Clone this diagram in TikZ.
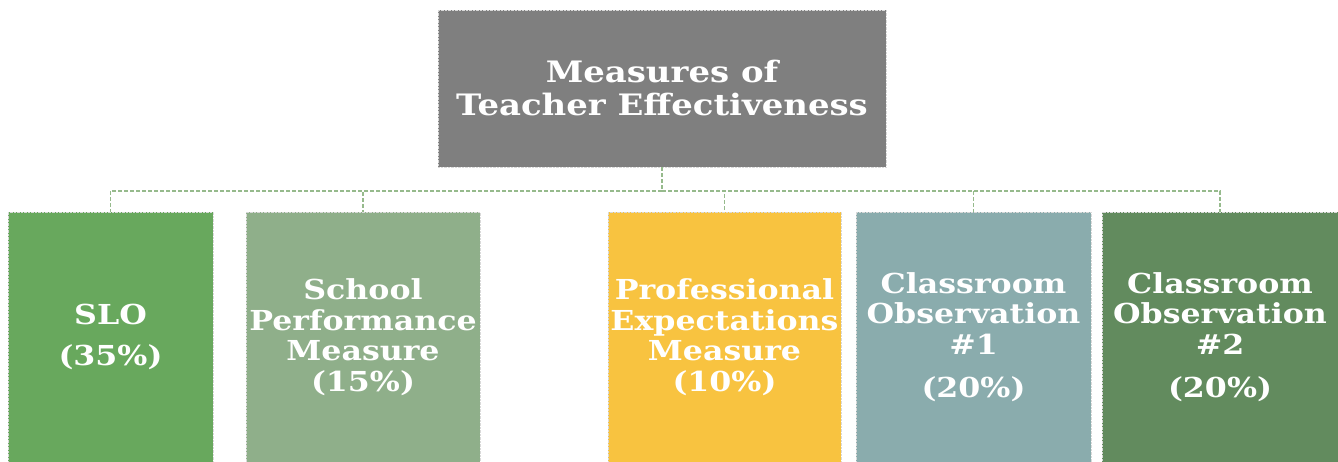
\documentclass[tikz,border=0pt]{standalone}
\usepackage{fontspec}
\newfontfamily\boxfont{DejaVu Serif}[FakeStretch=1.15]
\definecolor{topgray}{RGB}{127,127,127}
\definecolor{slogreen}{RGB}{104,168,93}
\definecolor{schoolgreen}{RGB}{143,175,138}
\definecolor{profyellow}{RGB}{248,195,64}
\definecolor{obsblue}{RGB}{138,172,173}
\definecolor{obsgreen}{RGB}{98,139,94}
\definecolor{linkgreen}{RGB}{150,186,140}
\begin{document}
\begin{tikzpicture}[x=1pt, y=-1pt,
        box/.style={draw=white!70!gray, densely dotted, text=white, align=center, inner sep=0pt,
            minimum height=250pt, font=\boxfont\bfseries\fontsize{27.5}{30.5}\selectfont},
        link/.style={draw=linkgreen, dash pattern=on 4pt off 2pt, line width=1.8pt}]
        \useasboundingbox (0,0) rectangle (1338,462);

        \draw (662, 88.5) node[box, fill=topgray, minimum width=448pt, minimum height=157pt,
            font=\boxfont\bfseries\fontsize{29.5}{33}\selectfont] (top) {Measures of\\Teacher Effectiveness};

        \draw (110.5, 337) node[box, fill=slogreen, minimum width=205pt] (slo) {SLO\\[11pt](35\%)};
        \draw (363, 337) node[box, fill=schoolgreen, minimum width=234pt] (school) {School\\Performance\\Measure\\(15\%)};
        \draw (724.5, 337) node[box, fill=profyellow, minimum width=233pt] (prof) {Professional\\Expectations\\Measure\\(10\%)};
        \draw (973.5, 337) node[box, fill=obsblue, minimum width=235pt] (obs1) {Classroom\\Observation\\\#1\\[13pt](20\%)};
        \draw (1220, 337) node[box, fill=obsgreen, minimum width=236pt] (obs2) {Classroom\\Observation\\\#2\\[13pt](20\%)};

        \coordinate (bus) at (662, 191);
        \draw[link] (top.south) -- (bus);
        \foreach \n in {slo, school, prof, obs1, obs2}
            \draw[link] (bus) -| (\n.north);
    \end{tikzpicture}
\end{document}
